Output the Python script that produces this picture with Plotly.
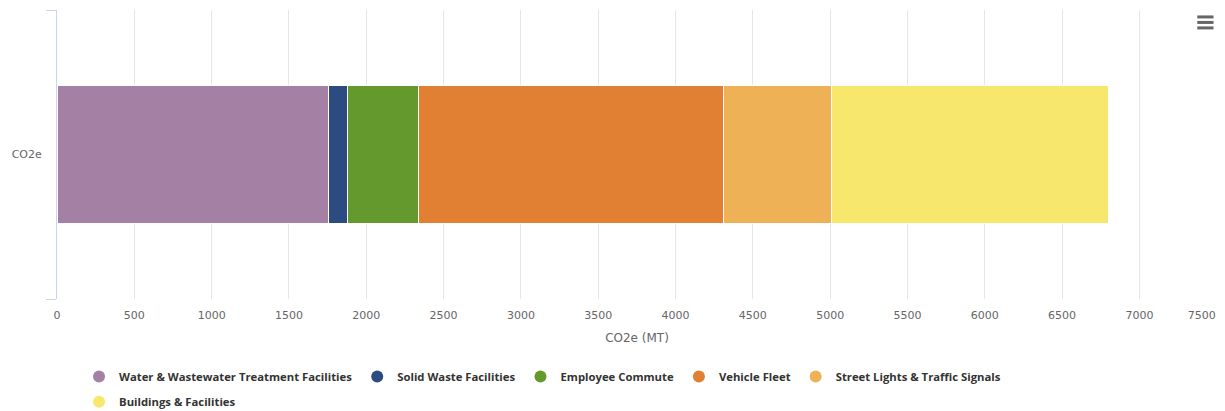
import plotly.graph_objects as go

categories = ["CO2e"]
series_names = [
    "Water & Wastewater Treatment Facilities",
    "Solid Waste Facilities",
    "Employee Commute",
    "Vehicle Fleet",
    "Street Lights & Traffic Signals",
    "Buildings & Facilities",
]
series_values = [1758, 122, 458, 1972, 699, 1789]
series_colors = ["#A580A5", "#2C4B80", "#64992E", "#E17F32", "#EEB156", "#F7E76C"]
legend_rows = ["legend", "legend", "legend", "legend", "legend", "legend2"]
x_ticks = list(range(0, 7501, 500))
x_tick_labels = [str(t) for t in x_ticks]
X_MAX = 7502

FONT = "Lucida Grande, DejaVu Sans, Arial, sans-serif"
LEG_FONT = dict(family="Open Sans, Arial, sans-serif", size=11.3, color="#333333", weight="bold")
TICK_FONT = dict(size=11, color="#666666")

fig = go.Figure()
for name, val, col, leg in zip(series_names, series_values, series_colors, legend_rows):
    fig.add_trace(go.Bar(
        y=categories, x=[val], name=name, orientation="h",
        marker=dict(color=col, line=dict(color="white", width=1)),
        hoverinfo="name+x", showlegend=False, legendgroup=name,
    ))
    fig.add_trace(go.Scatter(
        x=[None], y=[None], mode="markers", name=name, legendgroup=name,
        marker=dict(color=col, size=12, symbol="circle"),
        showlegend=True, legend=leg, hoverinfo="skip", xaxis="x2",
    ))

fig.update_layout(
    barmode="stack",
    bargap=0.524,
    width=1225, height=411,
    margin=dict(l=57, r=8, t=10, b=112, autoexpand=False),
    paper_bgcolor="white", plot_bgcolor="white",
    font=dict(family=FONT, color="#666666", size=11),
    showlegend=True,
    legend=dict(
        orientation="h", x=0.019, xanchor="left", y=-0.218, yanchor="top",
        font=LEG_FONT, traceorder="normal", tracegroupgap=0,
    ),
    legend2=dict(
        orientation="h", x=0.019, xanchor="left", y=-0.305, yanchor="top",
        font=LEG_FONT, traceorder="normal", tracegroupgap=0,
    ),
    xaxis=dict(
        range=[0, X_MAX], tickvals=x_ticks[:-1], ticktext=x_tick_labels[:-1],
        showgrid=True, gridcolor="#e6e6e6", gridwidth=1,
        zeroline=False, showline=False, ticks="",
        ticklabelstandoff=8,
        title=dict(text="CO2e (MT)", font=dict(size=12, color="#666666"), standoff=12),
        tickfont=TICK_FONT,
        fixedrange=True, automargin=False,
    ),
    # last tick: label right-aligned on its grid line, as in the original
    xaxis2=dict(
        overlaying="x", anchor="y", side="bottom",
        range=[0, X_MAX], tickvals=x_ticks[-1:], ticktext=x_tick_labels[-1:],
        showgrid=True, gridcolor="#e6e6e6", gridwidth=1,
        zeroline=False, showline=False, ticks="",
        ticklabelstandoff=8, ticklabelshift=-15,
        tickfont=TICK_FONT,
        fixedrange=True, automargin=False,
    ),
    yaxis=dict(
        type="category", range=[-0.5, 0.5], showline=True, linecolor="#ccd6eb", linewidth=1,
        ticks="outside", tickson="boundaries", ticklen=10, tickcolor="#ccd6eb",
        ticklabelstandoff=12,
        showgrid=False, tickfont=TICK_FONT,
        fixedrange=True, automargin=False,
    ),
)

# export menu icon (hamburger)
for yy in [0.976, 0.957, 0.938]:
    fig.add_shape(type="line", xref="paper", yref="paper",
                  x0=0.983, x1=0.997, y0=yy, y1=yy,
                  line=dict(color="#666666", width=3))

fig.write_html("out.html")
